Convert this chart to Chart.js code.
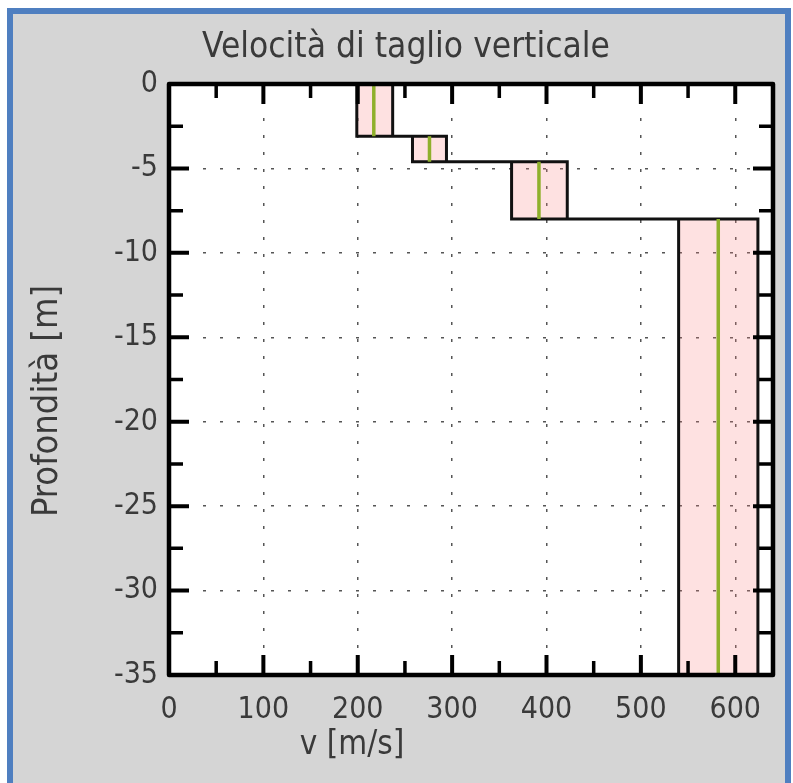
<!DOCTYPE html>
<html>
<head>
<meta charset="utf-8">
<script src="https://cdn.jsdelivr.net/npm/chart.js@4"></script>
<style>
  body { margin: 0; background: #fff; }
  #frame {
    position: absolute; left: 7px; top: 8px; width: 784px; height: 775px;
    box-sizing: border-box; background: #d5d5d5;
    border-left: 6px solid #4f7fc0; border-top: 6px solid #4f7fc0; border-right: 6px solid #4f7fc0;
  }
  #c { position: absolute; left: 0; top: 0; }
</style>
</head>
<body>
<div id="frame"></div>
<canvas id="c" width="793" height="783"></canvas>
<script>
// layers: depth [m] and shear velocity [m/s]
const depthTop = [0, -3.1, -4.6, -8];
const depthBottom = [-3.1, -4.6, -8, -35];
const vMin = [199, 258, 363, 540];
const vMax = [237, 294, 422, 624];
const vMean = [217, 276, 392, 582];

const xTicks = [0, 100, 200, 300, 400, 500, 600];
const xMinor = [50, 150, 250, 350, 450, 550];
const yTicks = [0, -5, -10, -15, -20, -25, -30, -35];
const yMinor = [-2.5, -7.5, -12.5, -17.5, -22.5, -27.5, -32.5];

const titleText = 'Velocità di taglio verticale';
const xLabel = 'v [m/s]';
const yLabel = 'Profondità [m]';

const FONT = "'DejaVu Sans Condensed', 'DejaVu Sans', sans-serif";
const TEXT = '#3a3a3a';

// step lines on the min and max side, closed into one polygon
let minLine = [];
let maxLine = [];
depthTop.forEach((t, i) => {
  minLine.push({x: vMin[i], y: t}, {x: vMin[i], y: depthBottom[i]});
  maxLine.push({x: vMax[i], y: t}, {x: vMax[i], y: depthBottom[i]});
});
let band = minLine.concat(maxLine.slice().reverse());
band.push(band[0]);

let datasets = vMean.map((v, i) => ({
  data: [{x: v, y: depthTop[i]}, {x: v, y: depthBottom[i]}],
  borderColor: '#8fb02c',
  borderWidth: 3.5,
  pointRadius: 0,
  fill: false
}));
datasets.push({
  data: band,
  borderColor: '#111',
  borderWidth: 3,
  backgroundColor: 'rgba(250, 130, 130, 0.24)',
  pointRadius: 0,
  fill: 'shape'
});

const frame = {
  id: 'frame',
  beforeDraw(chart) {
    const {ctx, chartArea: a} = chart;
    ctx.save();
    ctx.fillStyle = '#fff';
    ctx.fillRect(a.left, a.top, a.right - a.left, a.bottom - a.top);
    ctx.restore();
  },
  afterDatasetsDraw(chart) {
    const {ctx, chartArea: a, scales: {x, y}} = chart;
    ctx.save();
    ctx.strokeStyle = '#000';
    ctx.lineCap = 'butt';
    const hTick = (v, len, w) => {
      let px = x.getPixelForValue(v);
      ctx.lineWidth = w;
      ctx.beginPath();
      ctx.moveTo(px, a.bottom); ctx.lineTo(px, a.bottom - len);
      ctx.moveTo(px, a.top); ctx.lineTo(px, a.top + len);
      ctx.stroke();
    };
    const vTick = (v, len, w) => {
      let py = y.getPixelForValue(v);
      ctx.lineWidth = w;
      ctx.beginPath();
      ctx.moveTo(a.left, py); ctx.lineTo(a.left + len, py);
      ctx.moveTo(a.right, py); ctx.lineTo(a.right - len, py);
      ctx.stroke();
    };
    xTicks.forEach(v => hTick(v, 20, 4));
    xMinor.forEach(v => hTick(v, 14, 3.5));
    yTicks.forEach(v => vTick(v, 20, 4));
    yMinor.forEach(v => vTick(v, 14, 3.5));
    ctx.lineWidth = 4.5;
    ctx.lineJoin = 'round';
    ctx.strokeRect(a.left, a.top, a.right - a.left, a.bottom - a.top);
    ctx.restore();
  },
  afterDraw(chart) {
    const ctx = chart.ctx;
    ctx.save();
    ctx.fillStyle = TEXT;
    ctx.textAlign = 'center';
    ctx.textBaseline = 'middle';
    ctx.font = '35px ' + FONT;
    ctx.fillText(titleText, 406, 48);
    ctx.font = '33px ' + FONT;
    ctx.fillText(xLabel, 352, 745);
    ctx.font = '36px ' + FONT;
    ctx.translate(48, 401);
    ctx.rotate(-Math.PI / 2);
    ctx.fillText(yLabel, 0, 0);
    ctx.restore();
  }
};

new Chart(document.getElementById('c'), {
  type: 'line',
  data: {datasets: datasets},
  plugins: [frame],
  options: {
    responsive: false,
    animation: false,
    layout: {padding: {left: 0, right: 20, top: 84, bottom: 0}},
    plugins: {legend: {display: false}, tooltip: {enabled: false}},
    scales: {
      x: {
        type: 'linear', min: 0, max: 640,
        afterBuildTicks: s => { s.ticks = xTicks.map(v => ({value: v})); },
        afterFit: s => { s.height = 108; },
        ticks: {color: TEXT, font: {family: FONT, size: 30}, padding: 17, maxRotation: 0},
        grid: {color: '#555', lineWidth: 1.5, drawTicks: false},
        border: {display: false, dash: [3, 14]}
      },
      y: {
        type: 'linear', min: -35, max: 0,
        afterBuildTicks: s => { s.ticks = yTicks.map(v => ({value: v})); },
        afterFit: s => { s.width = 169; },
        ticks: {color: TEXT, font: {family: FONT, size: 30}, padding: 11},
        grid: {color: '#555', lineWidth: 1.5, drawTicks: false},
        border: {display: false, dash: [3, 14]}
      }
    }
  }
});
</script>
</body>
</html>
